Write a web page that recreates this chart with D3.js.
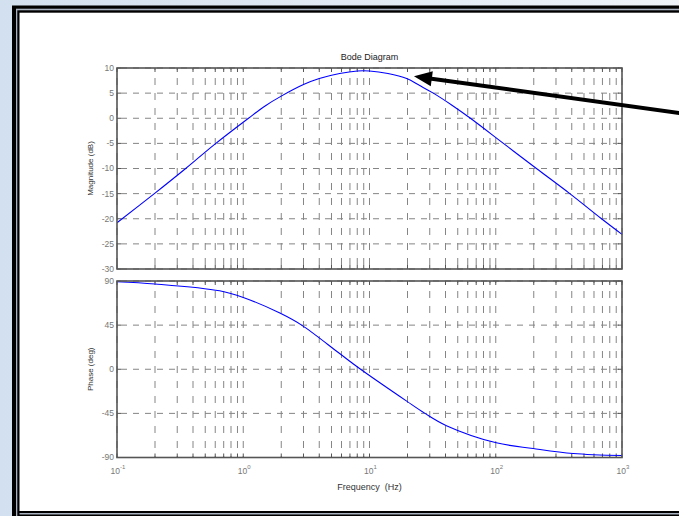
<!DOCTYPE html>
<html>
<head>
<meta charset="utf-8">
<script src="https://cdn.jsdelivr.net/npm/d3@7"></script>
<style>
  html, body { margin: 0; padding: 0; background: #fff; }
  svg { display: block; font-family: Arial, "Liberation Sans", sans-serif; }
</style>
</head>
<body>
<svg id="chart" width="679" height="516"></svg>
<script>
// Magnitude response samples (frequency in Hz, gain in dB)
const magFreq = [0.1, 0.2, 0.35, 0.6, 1.1, 1.5, 2, 3, 4, 5.8, 8, 10, 14, 19.7, 25, 32, 45, 63, 115, 210, 386, 688, 1000];
const magDb   = [-20.8, -14.9, -10, -5.1, 0, 2.5, 4.4, 6.7, 7.9, 8.9, 9.4, 9.4, 8.9, 7.9, 6.5, 5, 2.6, 0, -5, -10, -15, -20, -23.1];

// Phase response samples (frequency in Hz, phase in degrees)
const phaseFreq = [0.1, 0.2, 0.65, 1, 1.95, 2.9, 5.8, 8.5, 19.7, 27.5, 40.7, 101, 198, 410, 1000];
const phaseDeg  = [89.3, 87, 80, 73.2, 57.3, 45, 16, 0, -32.5, -45, -57.5, -75, -80.8, -85.9, -88];

// Axis ticks
const magTicks = [10, 5, 0, -5, -10, -15, -20, -25, -30];
const phaseTicks = [90, 45, 0, -45, -90];
const freqExponents = [-1, 0, 1, 2, 3];

// Annotation arrow pointing at the response peak region
const arrowTip = { freq: 22.5, db: 8.35 };

const svg = d3.select("#chart");
const W = 679, H = 516;

// ---- page background and double frame ----
const defs = svg.append("defs");
const bg = defs.append("linearGradient").attr("id", "bg").attr("x1", 0).attr("x2", 1).attr("y1", 0).attr("y2", 0);
bg.append("stop").attr("offset", 0).attr("stop-color", "#d3e0ef");
bg.append("stop").attr("offset", 1).attr("stop-color", "#eef3f9");
svg.append("rect").attr("width", W).attr("height", H).attr("fill", "url(#bg)");

svg.append("rect").attr("x", 12).attr("y", 5.5).attr("width", 700).attr("height", 600).attr("fill", "#000");
svg.append("rect").attr("x", 16).attr("y", 8.7).attr("width", 700).attr("height", 600).attr("fill", "#a7b1c0");
svg.append("rect").attr("x", 17.3).attr("y", 10.3).attr("width", 700).attr("height", 600).attr("fill", "#000");
svg.append("rect").attr("x", 19.5).attr("y", 12.7).attr("width", 700).attr("height", 498.3).attr("fill", "#fff");
svg.append("rect").attr("x", 19.5).attr("y", 513).attr("width", 700).attr("height", 1.5).attr("fill", "#a7b1c0");

// ---- scales ----
const x = d3.scaleLog().domain([0.1, 1000]).range([117, 622]);
const yMag = d3.scaleLinear().domain([-30, 10]).range([269, 68]);
const yPh = d3.scaleLinear().domain([-90, 90]).range([457.5, 281]);
const xMinor = x.ticks();

const gridColor = "#858585";
const axisColor = "#555";
const tickText = "#777";

function panel(yScale, yTicks, freq, vals, clipId) {
  const [y0, y1] = yScale.range(); // bottom, top
  const [x0, x1] = x.range();
  const g = svg.append("g");

  // vertical dashed grid at every decade subdivision
  g.selectAll("line.vg").data(xMinor).join("line")
    .attr("x1", d => x(d)).attr("x2", d => x(d))
    .attr("y1", y1).attr("y2", y0)
    .attr("stroke", gridColor).attr("stroke-width", 1)
    .attr("stroke-dasharray", "7,8").attr("stroke-dashoffset", 5);

  // horizontal dashed grid at each labelled level
  g.selectAll("line.hg").data(yTicks).join("line")
    .attr("x1", x0).attr("x2", x1)
    .attr("y1", d => yScale(d)).attr("y2", d => yScale(d))
    .attr("stroke", gridColor).attr("stroke-width", 1)
    .attr("stroke-dasharray", "6,6").attr("stroke-dashoffset", 8);

  // inward tick marks on all four edges
  const tl = 4;
  g.selectAll("line.tb").data(xMinor).join("line")
    .attr("x1", d => x(d)).attr("x2", d => x(d))
    .attr("y1", y0).attr("y2", y0 - tl)
    .attr("stroke", axisColor);
  g.selectAll("line.tt").data(xMinor).join("line")
    .attr("x1", d => x(d)).attr("x2", d => x(d))
    .attr("y1", y1).attr("y2", y1 + tl)
    .attr("stroke", axisColor);
  g.selectAll("line.tl").data(yTicks).join("line")
    .attr("x1", x0).attr("x2", x0 + tl)
    .attr("y1", d => yScale(d)).attr("y2", d => yScale(d))
    .attr("stroke", axisColor);
  g.selectAll("line.tr").data(yTicks).join("line")
    .attr("x1", x1).attr("x2", x1 - tl)
    .attr("y1", d => yScale(d)).attr("y2", d => yScale(d))
    .attr("stroke", axisColor);

  // y tick labels
  g.selectAll("text.yl").data(yTicks).join("text")
    .attr("x", x0 - 3).attr("y", d => yScale(d))
    .attr("dy", "0.35em").attr("text-anchor", "end")
    .attr("font-size", 8.5).attr("fill", tickText)
    .text(d => String(d));

  // response curve
  defs.append("clipPath").attr("id", clipId)
    .append("rect").attr("x", x0).attr("y", y1).attr("width", x1 - x0).attr("height", y0 - y1);
  const line = d3.line()
    .x(d => x(d[0])).y(d => yScale(d[1]))
    .curve(d3.curveCatmullRom.alpha(0.5));
  g.append("path")
    .datum(freq.map((f, i) => [f, vals[i]]))
    .attr("d", line)
    .attr("clip-path", `url(#${clipId})`)
    .attr("fill", "none").attr("stroke", "#0000ff").attr("stroke-width", 1.1);

  // axes box
  g.append("rect").attr("x", x0).attr("y", y1).attr("width", x1 - x0).attr("height", y0 - y1)
    .attr("fill", "none").attr("stroke", axisColor).attr("stroke-width", 1.6);
  return g;
}

panel(yMag, magTicks, magFreq, magDb, "clipMag");
panel(yPh, phaseTicks, phaseFreq, phaseDeg, "clipPh");

// x tick labels as powers of ten
const xl = svg.selectAll("text.xl").data(freqExponents).join("text")
  .attr("x", d => x(Math.pow(10, d)) + 1).attr("y", 474)
  .attr("text-anchor", "middle").attr("font-size", 8.5).attr("fill", tickText);
xl.append("tspan").text("10");
xl.append("tspan").attr("dy", -5).attr("font-size", 6).text(d => String(d));

// titles and axis labels
svg.append("text").attr("x", 369.5).attr("y", 60).attr("text-anchor", "middle")
  .attr("font-size", 9).attr("fill", "#222").text("Bode Diagram");
svg.append("text").attr("x", 369.5).attr("y", 490).attr("text-anchor", "middle")
  .attr("font-size", 9).attr("fill", "#333").attr("xml:space", "preserve")
  .style("white-space", "pre").text("Frequency  (Hz)");
svg.append("text").attr("transform", `translate(93,${(yMag.range()[0] + yMag.range()[1]) / 2}) rotate(-90)`)
  .attr("text-anchor", "middle").attr("font-size", 8).attr("fill", "#333").text("Magnitude (dB)");
svg.append("text").attr("transform", `translate(93,${(yPh.range()[0] + yPh.range()[1]) / 2}) rotate(-90)`)
  .attr("text-anchor", "middle").attr("font-size", 8).attr("fill", "#333").text("Phase (deg)");

// annotation arrow
const tip = [x(arrowTip.freq), yMag(arrowTip.db)];
const dir = [265, 36.7];
const len = Math.hypot(dir[0], dir[1]);
const u = [dir[0] / len, dir[1] / len];
const n = [-u[1], u[0]];
const headLen = 18, headHalf = 7.5;
const base = [tip[0] + u[0] * headLen, tip[1] + u[1] * headLen];
const tailT = (720 - tip[0]) / u[0];
svg.append("line")
  .attr("x1", tip[0] + u[0] * (headLen - 2)).attr("y1", tip[1] + u[1] * (headLen - 2))
  .attr("x2", tip[0] + u[0] * tailT).attr("y2", tip[1] + u[1] * tailT)
  .attr("stroke", "#000").attr("stroke-width", 4);
svg.append("path")
  .attr("d", `M${tip[0]},${tip[1]}L${base[0] + n[0] * headHalf},${base[1] + n[1] * headHalf}L${base[0] - n[0] * headHalf},${base[1] - n[1] * headHalf}Z`)
  .attr("fill", "#000");
</script>
</body>
</html>
